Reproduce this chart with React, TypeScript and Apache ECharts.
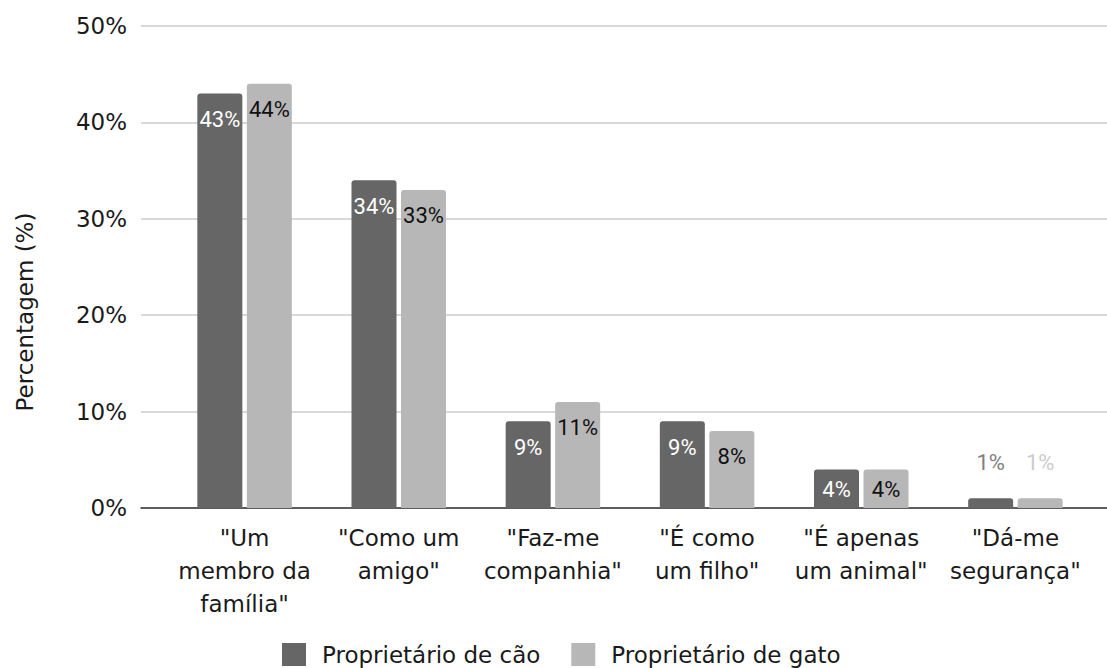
import React, { useEffect, useRef } from "react";
import * as echarts from "echarts";

const categories = [
  '"Um\nmembro da\nfamília"',
  '"Como um\namigo"',
  '"Faz-me\ncompanhia"',
  '"É como\num filho"',
  '"É apenas\num animal"',
  '"Dá-me\nsegurança"',
];
const dogValues = [43, 34, 9, 9, 4, 1];
const catValues = [44, 33, 11, 8, 4, 1];
const seriesNames = ["Proprietário de cão", "Proprietário de gato"];
const yTicks = { min: 0, max: 50, interval: 10 };
const yAxisTitle = "Percentagem (%)";

const DARK = "#666666";
const LIGHT = "#b7b7b7";
const TEXT_FONT = "DejaVu Sans";
const LABEL_FONT = "Roboto";

function itemsFor(values: number[], isDark: boolean) {
  return values.map((v) => {
    if (v <= 2) {
      return {
        value: v,
        label: {
          position: "top",
          distance: 25,
          color: isDark ? "#808080" : "#cccccc",
        },
      };
    }
    if (v <= 5) {
      return { value: v, label: { position: "insideTop", distance: 9 } };
    }
    return v;
  });
}

export default function App() {
  const ref = useRef<HTMLDivElement>(null);
  useEffect(() => {
    document.body.style.margin = "0";
    const chart = echarts.init(ref.current!, null, { renderer: "svg" });
    const top = 26;
    const bottom = 160;
    chart.setOption({
      animation: false,
      backgroundColor: "#ffffff",
      grid: [
        { left: 141, right: 0, top, bottom, containLabel: false },
        { left: 167.5, right: 14.5, top, bottom, containLabel: false },
      ],
      xAxis: [
        {
          type: "category",
          gridIndex: 0,
          data: categories,
          axisLine: { show: true, lineStyle: { color: "#333333", width: 1.5 } },
          axisTick: { show: false },
          axisLabel: { show: false },
          splitLine: { show: false },
          z: 3,
        },
        {
          type: "category",
          gridIndex: 1,
          data: categories,
          axisLine: { show: false },
          axisTick: { show: false },
          axisLabel: {
            margin: 13,
            fontFamily: TEXT_FONT,
            fontSize: 23,
            lineHeight: 33,
            color: "#1a1a1a",
            interval: 0,
          },
        },
      ],
      yAxis: [
        {
          type: "value",
          gridIndex: 0,
          min: yTicks.min,
          max: yTicks.max,
          interval: yTicks.interval,
          axisLine: { show: false },
          axisTick: { show: false },
          axisLabel: {
            formatter: "{value}%",
            margin: 14,
            fontFamily: TEXT_FONT,
            fontSize: 23,
            color: "#1a1a1a",
          },
          splitLine: { show: true, lineStyle: { color: "#cccccc", width: 1.5 } },
        },
        {
          type: "value",
          gridIndex: 1,
          min: yTicks.min,
          max: yTicks.max,
          interval: yTicks.interval,
          show: false,
          splitLine: { show: false },
        },
      ],
      legend: {
        left: 282,
        top: 643,
        padding: 0,
        icon: "rect",
        itemWidth: 24,
        itemHeight: 23,
        itemGap: 31,
        data: seriesNames,
        textStyle: {
          fontFamily: TEXT_FONT,
          fontSize: 23,
          color: "#1a1a1a",
          padding: [0, 0, 0, 11],
        },
      },
      graphic: [
        {
          type: "text",
          x: 25,
          y: 312,
          rotation: Math.PI / 2,
          style: {
            text: yAxisTitle,
            font: `23px "${TEXT_FONT}"`,
            fill: "#1a1a1a",
            textAlign: "center",
            textVerticalAlign: "middle",
          },
        },
      ],
      series: [
        {
          name: seriesNames[0],
          type: "bar",
          xAxisIndex: 1,
          yAxisIndex: 1,
          barWidth: 45,
          barGap: "10%",
          data: itemsFor(dogValues, true),
          itemStyle: { color: DARK, borderRadius: [3, 3, 0, 0] },
          label: {
            show: true,
            position: "insideTop",
            distance: 15,
            formatter: "{c}%",
            fontFamily: LABEL_FONT,
            fontSize: 22,
            color: "#ffffff",
          },
          z: 4,
        },
        {
          name: seriesNames[1],
          type: "bar",
          xAxisIndex: 1,
          yAxisIndex: 1,
          barWidth: 45,
          barGap: "10%",
          data: itemsFor(catValues, false),
          itemStyle: { color: LIGHT, borderRadius: [3, 3, 0, 0] },
          label: {
            show: true,
            position: "insideTop",
            distance: 15,
            formatter: "{c}%",
            fontFamily: LABEL_FONT,
            fontSize: 22,
            color: "#111111",
          },
          z: 4,
        },
      ],
    });
    return () => chart.dispose();
  }, []);
  return <div ref={ref} style={{ width: 1107, height: 668 }} />;
}
